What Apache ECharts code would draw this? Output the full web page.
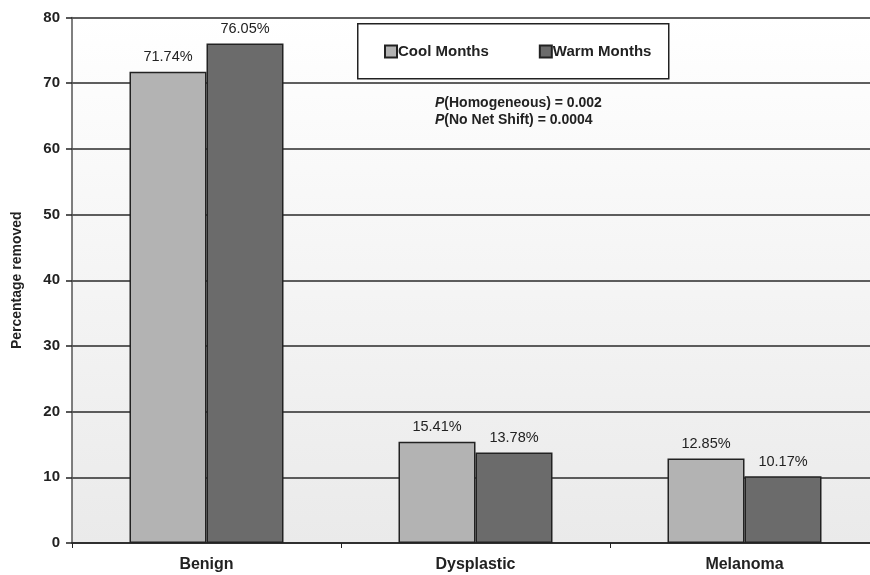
<!DOCTYPE html>
<html>
<head>
<meta charset="utf-8">
<script src="https://cdn.jsdelivr.net/npm/echarts@6/dist/echarts.min.js"></script>
<style>
  html, body { margin: 0; padding: 0; background: #fff; }
  #chart { width: 870px; height: 575px; }
</style>
</head>
<body>
<div id="chart"></div>
<script>
// Lesion categories and the share removed in each season
const categories = ['Benign', 'Dysplastic', 'Melanoma'];
const coolMonths = [71.74, 15.41, 12.85];
const warmMonths = [76.05, 13.78, 10.17];
const yTicks = [0, 10, 20, 30, 40, 50, 60, 70, 80];

const FONT = '"Liberation Sans", Arial, sans-serif';
const INK = '#222';

const chart = echarts.init(document.getElementById('chart'));

const labelStyle = {
  show: true,
  position: 'top',
  distance: 7,
  formatter: p => p.value.toFixed(2) + '%',
  fontFamily: FONT,
  fontSize: 14.5,
  color: INK
};

chart.setOption({
  animation: false,
  grid: {
    left: 72, right: -9, top: 17.5, bottom: 32,
    outerBoundsMode: 'none',
    show: true,
    borderWidth: 0,
    backgroundColor: new echarts.graphic.LinearGradient(0, 0, 0, 1, [
      { offset: 0, color: '#ffffff' },
      { offset: 1, color: '#eaeaea' }
    ])
  },
  legend: {
    data: ['Cool Months', 'Warm Months'],
    left: 384, top: 44,
    padding: 0,
    z: 20,
    itemGap: 50,
    itemWidth: 12, itemHeight: 12,
    icon: 'rect',
    textStyle: { fontFamily: FONT, fontSize: 15, fontWeight: 'bold', color: INK, padding: [0, 0, 0, -4] }
  },
  xAxis: {
    type: 'category',
    data: categories,
    axisLine: { lineStyle: { color: INK, width: 1.5 } },
    axisTick: { show: true, alignWithLabel: false, length: 5, lineStyle: { color: INK } },
    axisLabel: { fontFamily: FONT, fontSize: 16, fontWeight: 'bold', color: INK, margin: 14 }
  },
  yAxis: {
    type: 'value',
    min: yTicks[0], max: yTicks[yTicks.length - 1], interval: 10,
    name: 'Percentage removed',
    nameLocation: 'middle',
    nameGap: 48,
    nameTextStyle: { fontFamily: FONT, fontSize: 14, fontWeight: 'bold', color: INK },
    axisLine: { show: true, lineStyle: { color: '#555', width: 1.5 } },
    axisTick: { show: true, length: 6, lineStyle: { color: INK, width: 1.5 } },
    axisLabel: { fontFamily: FONT, fontSize: 15, fontWeight: 'bold', color: INK, margin: 12 },
    splitLine: { show: true, lineStyle: { color: '#2a2a2a', width: 1.5 } }
  },
  series: [
    {
      name: 'Cool Months', type: 'bar', data: coolMonths,
      barWidth: 77, barGap: '0%',
      itemStyle: { color: '#b3b3b3', borderColor: INK, borderWidth: 1.5 },
      label: labelStyle
    },
    {
      name: 'Warm Months', type: 'bar', data: warmMonths,
      barWidth: 77,
      itemStyle: { color: '#6b6b6b', borderColor: INK, borderWidth: 1.5 },
      label: labelStyle
    }
  ],
  graphic: [
    {
      // frame around the legend
      type: 'rect', left: 357, top: 23, z: 5,
      shape: { width: 311, height: 55 },
      style: { fill: '#fff', stroke: INK, lineWidth: 1.5 }
    },
    {
      type: 'text', left: 435, top: 96,
      style: {
        text: '{i|P}{b|(Homogeneous) = 0.002}\n{i|P}{b|(No Net Shift) = 0.0004}',
        rich: {
          i: { fontFamily: FONT, fontSize: 14, fontWeight: 'bold', fontStyle: 'italic', fill: INK, lineHeight: 17 },
          b: { fontFamily: FONT, fontSize: 14, fontWeight: 'bold', fill: INK, lineHeight: 17 }
        }
      }
    }
  ]
});
</script>
</body>
</html>
